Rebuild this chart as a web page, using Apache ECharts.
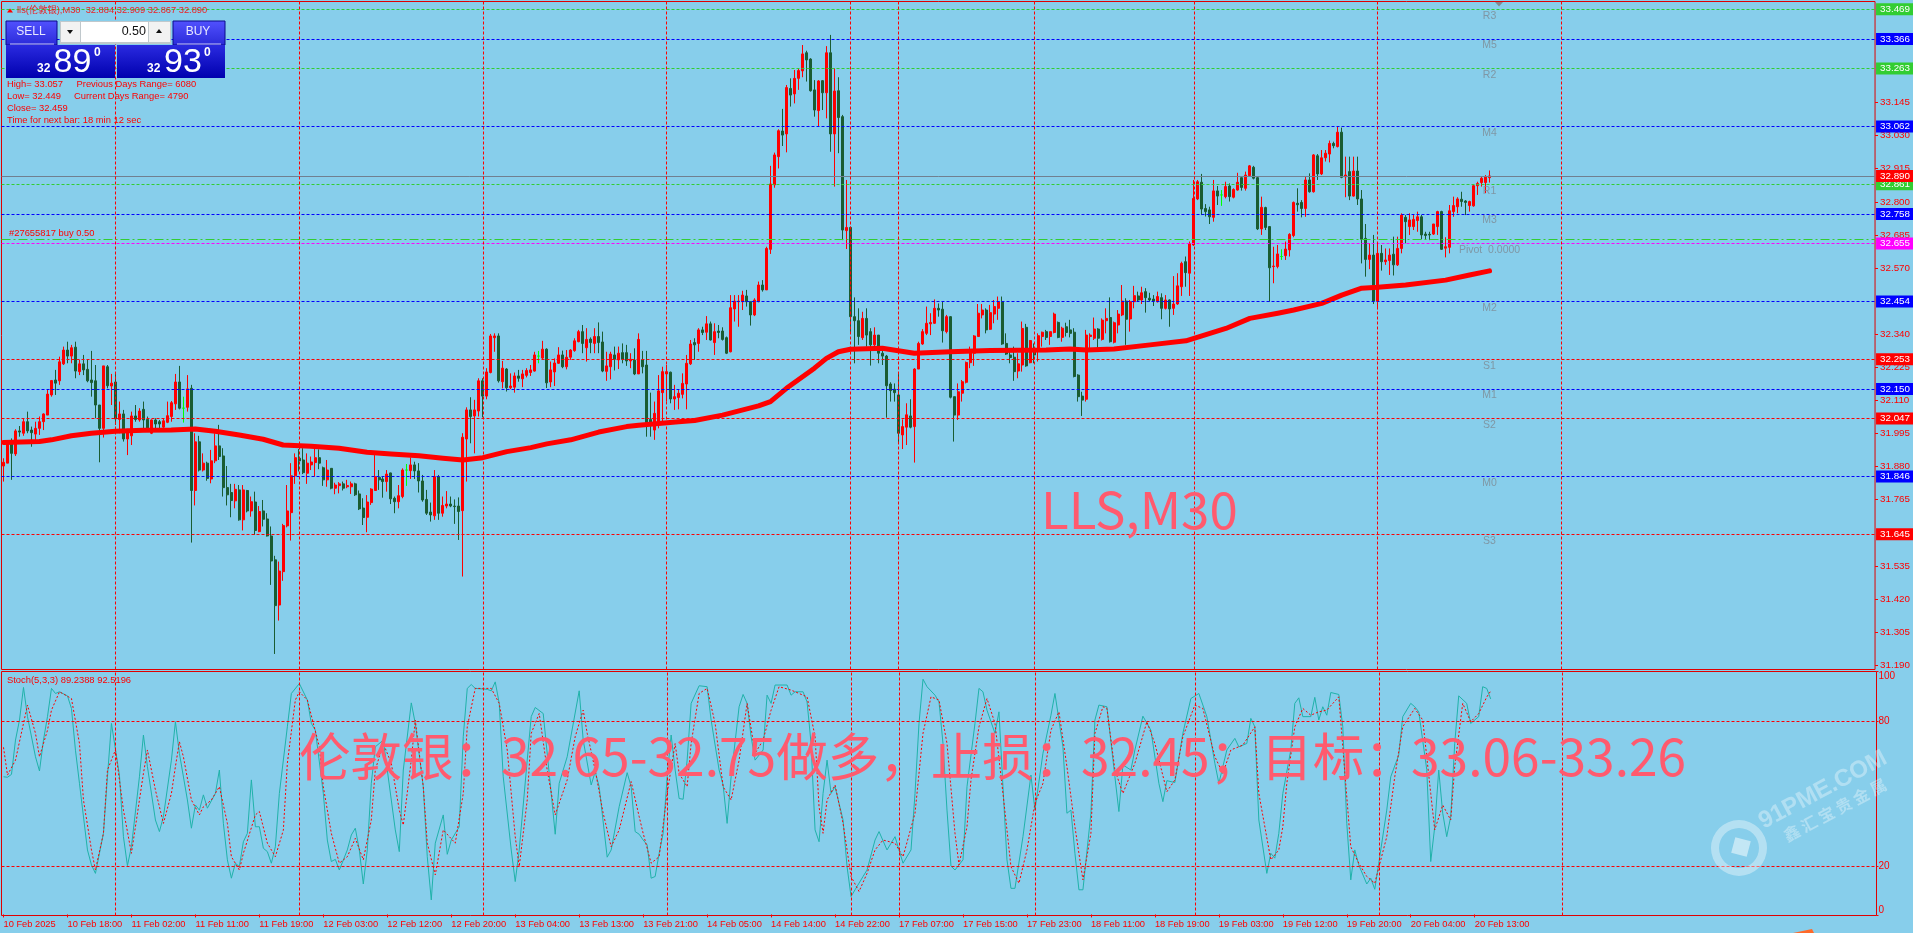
<!DOCTYPE html>
<html><head><meta charset="utf-8"><title>LLS,M30</title>
<style>html,body{margin:0;padding:0;background:#87ceeb;overflow:hidden}#c{width:1913px;height:933px}</style>
<script src="https://cdn.jsdelivr.net/npm/echarts@6/dist/echarts.min.js"></script></head>
<body><div id="c"></div>
<script>
const opens=[31.882,31.892,31.967,31.924,32.004,31.996,32.036,32.007,31.993,32.013,32.036,32.059,32.129,32.181,32.178,32.237,32.285,32.264,32.295,32.210,32.237,32.218,32.181,32.178,32.094,32.013,32.227,32.160,32.174,32.044,32.063,31.976,31.987,32.056,32.042,32.079,32.044,31.996,32.042,32.036,32.017,32.034,32.054,32.098,32.174,32.083,32.086,32.152,31.797,31.966,31.868,31.892,31.837,31.900,31.952,31.917,31.807,31.790,31.761,31.799,31.695,31.797,31.726,31.757,31.654,31.726,31.698,31.639,31.556,31.399,31.515,31.674,31.720,31.848,31.909,31.903,31.857,31.886,31.894,31.911,31.876,31.834,31.874,31.805,31.814,31.820,31.810,31.810,31.820,31.785,31.736,31.704,31.755,31.797,31.843,31.837,31.828,31.858,31.770,31.758,31.776,31.868,31.866,31.886,31.865,31.830,31.766,31.722,31.709,31.845,31.718,31.743,31.750,31.743,31.743,31.727,31.976,32.077,32.056,32.073,32.178,32.125,32.207,32.328,32.334,32.175,32.219,32.154,32.156,32.195,32.185,32.197,32.207,32.212,32.264,32.257,32.288,32.174,32.209,32.239,32.268,32.227,32.260,32.283,32.314,32.349,32.293,32.323,32.308,32.332,32.313,32.211,32.227,32.268,32.251,32.276,32.276,32.247,32.250,32.202,
32.251,32.233,32.044,32.007,32.033,32.137,32.202,32.208,32.115,32.120,32.131,32.167,32.237,32.311,32.308,32.355,32.347,32.376,32.311,32.351,32.351,32.328,32.279,32.428,32.453,32.453,32.473,32.453,32.407,32.453,32.511,32.494,32.635,32.859,32.957,33.046,33.036,33.194,33.175,33.229,33.255,33.318,33.296,33.189,33.117,33.221,33.179,33.318,33.036,33.186,33.096,32.700,32.711,32.401,32.387,32.328,32.395,32.349,32.303,32.337,32.274,32.264,32.167,32.149,32.129,31.990,32.017,32.056,32.019,32.219,32.306,32.343,32.376,32.378,32.430,32.427,32.349,32.401,32.123,32.059,32.135,32.173,32.241,32.274,32.332,32.407,32.424,32.357,32.410,32.430,32.453,32.308,32.268,32.260,32.212,32.233,32.364,32.241,32.291,32.285,32.332,32.349,32.332,32.346,32.381,32.329,32.366,32.355,32.347,32.198,32.125,32.114,32.332,32.326,32.358,32.322,32.387,32.398,32.312,32.372,32.407,32.455,32.393,32.453,32.473,32.459,32.488,32.465,32.462,32.453,32.467,32.430,32.459,32.430,32.445,32.505,32.592,32.552,32.650,32.810,32.868,32.777,32.772,32.746,32.838,32.824,32.818,32.855,32.816,32.841,32.884,32.847,32.891,32.920,32.884,32.706,32.780,32.714,32.575,32.575,32.610,32.613,32.633,32.683,32.795,32.798,32.777,32.876,32.835,32.960,32.897,32.953,32.966,33.003,32.992,33.042,32.887,32.905,32.820,32.907,32.810,32.673,32.600,32.615,32.455,32.621,32.592,32.596,32.618,32.581,32.638,32.746,32.714,32.714,32.735,32.748,32.688,32.687,32.688,32.714,32.766,32.639,32.642,32.766,32.783,32.809,32.803,32.787,32.786,32.856,32.867,32.867,32.884];
const closes=[31.895,31.967,31.926,32.004,32.000,32.036,32.004,31.998,32.013,32.036,32.063,32.132,32.179,32.170,32.244,32.285,32.264,32.293,32.212,32.237,32.216,32.178,32.172,32.094,32.013,32.230,32.161,32.170,32.046,32.063,31.976,32.010,32.056,32.044,32.073,32.042,32.010,32.042,32.028,32.028,32.039,32.057,32.102,32.174,32.083,32.083,32.150,31.797,31.966,31.868,31.892,31.839,31.900,31.952,31.915,31.807,31.782,31.762,31.801,31.695,31.799,31.726,31.758,31.658,31.724,31.697,31.639,31.552,31.397,31.517,31.675,31.726,31.848,31.911,31.900,31.859,31.892,31.896,31.911,31.892,31.834,31.868,31.805,31.816,31.820,31.805,31.814,31.820,31.782,31.733,31.703,31.757,31.802,31.845,31.834,31.828,31.854,31.768,31.758,31.779,31.868,31.868,31.886,31.865,31.830,31.764,31.718,31.712,31.845,31.718,31.745,31.750,31.743,31.741,31.724,31.982,32.077,32.054,32.077,32.178,32.125,32.209,32.334,32.334,32.178,32.222,32.154,32.160,32.195,32.187,32.202,32.214,32.216,32.268,32.264,32.288,32.171,32.216,32.240,32.268,32.227,32.260,32.285,32.317,32.349,32.308,32.322,32.311,32.332,32.311,32.212,32.230,32.271,32.253,32.274,32.253,32.247,32.253,32.202,32.322,
32.227,32.033,32.030,32.065,32.143,32.210,32.210,32.115,32.123,32.135,32.169,32.239,32.306,32.303,32.355,32.346,32.376,32.320,32.349,32.346,32.322,32.274,32.432,32.455,32.455,32.476,32.453,32.407,32.459,32.511,32.494,32.638,32.862,32.963,33.047,33.032,33.197,33.171,33.229,33.256,33.314,33.293,33.186,33.119,33.220,33.179,33.318,33.036,33.185,33.093,32.702,32.711,32.401,32.387,32.332,32.395,32.337,32.303,32.337,32.274,32.264,32.161,32.144,32.137,31.996,32.019,32.060,32.017,32.219,32.308,32.349,32.378,32.381,32.430,32.424,32.352,32.401,32.121,32.059,32.140,32.175,32.242,32.279,32.334,32.413,32.424,32.355,32.415,32.436,32.453,32.306,32.271,32.259,32.210,32.237,32.360,32.230,32.318,32.268,32.335,32.347,32.329,32.349,32.410,32.329,32.361,32.346,32.343,32.193,32.123,32.111,32.337,32.337,32.358,32.326,32.389,32.395,32.314,32.380,32.410,32.455,32.392,32.453,32.474,32.459,32.484,32.467,32.459,32.455,32.471,32.430,32.459,32.428,32.445,32.508,32.586,32.554,32.654,32.812,32.870,32.775,32.766,32.748,32.838,32.820,32.824,32.853,32.818,32.843,32.868,32.850,32.893,32.925,32.882,32.706,32.781,32.711,32.571,32.577,32.619,32.610,32.636,32.687,32.798,32.790,32.777,32.876,32.835,32.963,32.897,32.953,32.969,33.003,32.995,33.042,32.885,32.893,32.820,32.907,32.810,32.670,32.600,32.615,32.455,32.621,32.592,32.598,32.615,32.581,32.638,32.754,32.731,32.737,32.739,32.748,32.685,32.683,32.685,32.723,32.766,32.635,32.644,32.769,32.787,32.810,32.801,32.798,32.801,32.856,32.864,32.882,32.887,32.890];
const highs=[31.909,31.967,31.978,32.010,32.021,32.048,32.071,32.019,32.036,32.054,32.065,32.146,32.181,32.216,32.262,32.297,32.314,32.303,32.314,32.251,32.268,32.251,32.282,32.233,32.094,32.230,32.233,32.202,32.204,32.106,32.077,32.010,32.071,32.094,32.083,32.106,32.054,32.044,32.048,32.042,32.048,32.106,32.108,32.202,32.230,32.123,32.198,32.164,31.996,31.987,31.926,31.897,31.938,31.996,32.025,31.944,31.882,31.820,31.820,31.816,31.816,31.799,31.776,31.793,31.743,31.764,31.718,31.672,31.570,31.550,31.681,31.816,31.892,31.926,31.941,31.944,31.926,31.915,31.944,31.940,31.880,31.903,31.874,31.824,31.826,31.828,31.834,31.828,31.824,31.797,31.770,31.781,31.805,31.920,31.868,31.845,31.868,31.859,31.776,31.816,31.874,31.889,31.912,31.897,31.892,31.851,31.799,31.755,31.868,31.851,31.776,31.795,31.776,31.766,31.773,31.996,32.086,32.121,32.112,32.187,32.187,32.222,32.341,32.343,32.343,32.247,32.222,32.204,32.207,32.216,32.216,32.222,32.233,32.279,32.282,32.317,32.291,32.245,32.256,32.295,32.283,32.285,32.288,32.326,32.355,32.372,32.361,32.329,32.361,32.381,32.349,32.279,32.279,32.297,32.297,32.308,32.303,32.274,32.291,32.343,
32.282,32.282,32.137,32.106,32.198,32.227,32.233,32.210,32.164,32.146,32.204,32.268,32.320,32.326,32.361,32.366,32.403,32.384,32.378,32.372,32.364,32.332,32.476,32.476,32.476,32.491,32.494,32.453,32.465,32.523,32.528,32.644,32.925,32.971,33.052,33.123,33.206,33.229,33.258,33.264,33.345,33.325,33.299,33.223,33.223,33.223,33.341,33.380,33.264,33.233,33.102,32.876,32.714,32.468,32.430,32.418,32.430,32.361,32.364,32.337,32.297,32.268,32.173,32.169,32.204,32.044,32.100,32.114,32.222,32.314,32.358,32.436,32.413,32.461,32.447,32.453,32.407,32.403,32.123,32.169,32.181,32.245,32.297,32.337,32.445,32.445,32.430,32.442,32.459,32.471,32.471,32.343,32.285,32.297,32.274,32.384,32.376,32.320,32.308,32.343,32.349,32.355,32.349,32.415,32.384,32.366,32.380,32.390,32.361,32.201,32.140,32.355,32.343,32.398,32.361,32.395,32.430,32.468,32.384,32.424,32.511,32.465,32.459,32.508,32.488,32.505,32.500,32.484,32.476,32.488,32.482,32.476,32.461,32.542,32.552,32.592,32.610,32.662,32.876,32.876,32.897,32.792,32.783,32.876,32.855,32.841,32.870,32.864,32.847,32.901,32.885,32.905,32.928,32.925,32.887,32.818,32.783,32.716,32.644,32.650,32.635,32.662,32.691,32.801,32.847,32.806,32.888,32.899,32.966,32.966,32.980,32.980,33.013,33.009,33.061,33.058,32.957,32.957,32.957,32.957,32.841,32.723,32.656,32.685,32.654,32.650,32.638,32.638,32.679,32.679,32.760,32.754,32.760,32.754,32.766,32.754,32.696,32.696,32.723,32.769,32.769,32.677,32.789,32.818,32.816,32.835,32.806,32.804,32.862,32.870,32.887,32.893,32.909];
const lows=[31.828,31.892,31.834,31.917,31.984,31.987,31.996,31.949,31.973,31.990,32.007,32.059,32.123,32.129,32.164,32.233,32.239,32.239,32.187,32.198,32.198,32.173,32.123,32.048,31.895,31.981,32.152,32.094,32.025,31.996,31.967,31.920,31.955,32.036,32.036,32.013,32.005,31.993,32.013,32.013,32.005,32.031,32.036,32.077,32.079,32.033,32.071,31.616,31.745,31.863,31.863,31.831,31.822,31.892,31.903,31.776,31.745,31.704,31.735,31.692,31.658,31.721,31.706,31.643,31.652,31.672,31.637,31.469,31.229,31.345,31.483,31.669,31.623,31.820,31.863,31.854,31.820,31.868,31.845,31.871,31.813,31.810,31.801,31.784,31.787,31.797,31.805,31.785,31.778,31.729,31.677,31.652,31.747,31.797,31.799,31.772,31.793,31.750,31.718,31.735,31.770,31.813,31.837,31.837,31.790,31.758,31.712,31.689,31.695,31.695,31.706,31.735,31.739,31.681,31.625,31.498,31.828,31.961,31.926,32.054,32.051,32.114,32.204,32.279,32.172,32.152,32.141,32.149,32.137,32.175,32.156,32.190,32.195,32.210,32.239,32.251,32.153,32.156,32.160,32.237,32.222,32.218,32.251,32.279,32.312,32.274,32.245,32.274,32.274,32.274,32.208,32.178,32.183,32.214,32.219,32.239,32.230,32.222,32.198,32.202,
32.204,31.984,31.984,31.973,32.013,32.036,32.106,32.100,32.077,32.079,32.117,32.079,32.233,32.251,32.279,32.337,32.320,32.318,32.268,32.326,32.318,32.271,32.277,32.384,32.366,32.424,32.436,32.370,32.403,32.451,32.488,32.494,32.619,32.849,32.916,32.994,32.972,33.131,33.142,33.189,33.233,33.218,33.183,33.096,33.061,33.119,33.090,32.974,32.853,32.969,32.667,32.636,32.343,32.239,32.303,32.320,32.297,32.231,32.291,32.239,32.233,32.050,32.106,32.106,31.959,31.941,31.955,32.013,31.894,32.219,32.303,32.337,32.337,32.376,32.401,32.311,32.343,32.117,31.967,32.042,32.106,32.169,32.222,32.230,32.332,32.395,32.343,32.355,32.378,32.390,32.303,32.268,32.239,32.178,32.187,32.210,32.227,32.239,32.239,32.245,32.297,32.320,32.303,32.343,32.326,32.314,32.332,32.329,32.190,32.106,32.056,32.106,32.279,32.320,32.279,32.318,32.343,32.311,32.308,32.343,32.403,32.303,32.349,32.430,32.453,32.445,32.415,32.453,32.438,32.450,32.392,32.426,32.366,32.407,32.442,32.473,32.505,32.473,32.647,32.806,32.754,32.749,32.723,32.731,32.789,32.786,32.812,32.801,32.812,32.839,32.839,32.839,32.887,32.878,32.702,32.685,32.702,32.453,32.517,32.569,32.598,32.598,32.610,32.677,32.766,32.746,32.748,32.832,32.832,32.876,32.893,32.940,32.937,32.986,32.989,32.882,32.816,32.806,32.818,32.789,32.586,32.540,32.566,32.445,32.427,32.561,32.581,32.546,32.544,32.577,32.621,32.656,32.685,32.702,32.696,32.670,32.670,32.667,32.685,32.685,32.633,32.607,32.621,32.748,32.760,32.783,32.754,32.766,32.783,32.824,32.853,32.830,32.867];
const dojiBars=[45,101,134,305,320];
const maPoints=[[0,31.964],[9,31.967],[12,31.973],[17,31.987],[22,31.996],[28,32.003],[35,32.006],[42,32.007],[48,32.011],[53,32.003],[59,31.990],[65,31.975],[70,31.955],[77,31.951],[84,31.944],[91,31.930],[97,31.924],[104,31.918],[110,31.909],[115,31.903],[120,31.911],[126,31.932],[132,31.946],[136,31.959],[142,31.973],[149,32.000],[156,32.019],[159,32.024],[169,32.036],[173,32.040],[180,32.059],[189,32.091],[192,32.106],[196,32.152],[203,32.222],[206,32.256],[209,32.279],[212,32.288],[220,32.291],[228,32.274],[237,32.279],[247,32.283],[261,32.285],[267,32.289],[271,32.285],[278,32.289],[287,32.303],[296,32.317],[302,32.343],[306,32.360],[312,32.395],[319,32.413],[323,32.424],[330,32.447],[335,32.476],[340,32.500],[344,32.503],[351,32.511],[361,32.528],[367,32.546],[372,32.560]];
const stochK=[[0,57],[1,56.8],[2,58],[3,72.2],[4,80.5],[5,94],[6,81.9],[8,65.3],[9,59.4],[10,72.2],[11,81.9],[12,93.6],[13,91.5],[14,92.2],[16,90.5],[17,85.3],[18,68],[19,54.3],[21,26.7],[22,20.5],[23,17],[25,33.6],[26,57],[27,79.1],[29,57.7],[30,32.2],[31,20.2],[32,28],[34,57],[35,74.3],[36,61.2],[38,39.1],[39,34.3],[40,40.5],[42,63.9],[43,79.8],[44,66.7],[46,47.4],[47,35.7],[48,45.3],[49,43.2],[50,49.5],[51,44],[53,50.1],[54,59.8],[55,37.7],[56,22.6],[57,15],[58,21.2],[59,19.8],[60,30.1],[61,33.6],[62,55.7],[63,36.3],[64,36.3],[65,27.4],[66,26],[67,21.2],[68,28],[69,50.1],[71,77.7],[72,91.5],[74,95.6],[76,88.8],[77,79.1],[78,76.3],[80,50.1],[81,30.8],[82,21.9],[83,22.8],[84,18.4],[86,26.7],[87,32.9],[88,35.7],[89,26.7],[90,12.6],[91,26.7],[92,54.3],[93,69.4],[95,72.2],[96,59.8],[98,35],[99,26],[100,59.8],[102,87.6],[103,79.1],[105,52.9],[106,23.9],[107,6],[108,29.5],[110,41.2],[111,24.9],[112,30.8],[114,36.3],[115,73.6],[116,93.6],[117,95.2],[118,93.6],[121,93.2],[122,92.6],[123,96.3],[124,87.4],[125,57],[127,26.7],[128,13.6],[129,26.7],[131,63.9],[132,81.9],[133,85.7],[135,83.2],[137,50.1],[138,33.2],[139,54.3],[141,65.3],[144,92.6],[145,72.2],[147,53.6],[148,59.1],[149,52.9],[151,23.7],[152,26.7],[154,44.6],[156,58.7],[157,52.9],[158,34.3],[159,33.2],[160,30.8],[161,28.8],[162,15],[163,15.7],[164,25.3],[165,33.6],[166,57],[167,74.3],[168,59.8],[169,48],[170,47.7],[171,63.9],[172,87.4],[174,94.7],[176,94.3],[177,80.5],[179,59.8],[180,53.6],[181,37.7],[182,57],[184,86],[185,91.1],[186,87.4],[187,73.6],[188,63.9],[190,68.1],[191,90.8],[192,87.4],[193,95],[196,95],[197,90.8],[198,92.2],[200,92.2],[201,88],[202,70.8],[203,35],[204,30.1],[205,50.1],[206,63.9],[207,50.1],[208,52.9],[210,39.1],[211,19.8],[212,7.4],[213,10.2],[215,15.7],[216,18.4],[218,30.8],[219,34.3],[221,26.7],[223,32.2],[225,21.2],[227,26.7],[228,50.1],[229,79.1],[230,97.4],[231,94.3],[233,90.8],[234,88],[235,70.8],[236,43.2],[237,20],[238,18.4],[240,22.6],[241,52.9],[243,79.1],[244,93.6],[245,92.2],[246,84.6],[248,75],[249,83.9],[250,52.9],[251,22.6],[252,10.8],[253,10.8],[255,32.2],[257,57.7],[258,43.2],[260,66.7],[262,82.5],[263,91.5],[265,69.4],[266,41.9],[267,43.2],[268,25.3],[269,10.2],[270,10.2],[272,41.9],[273,80.5],[274,86.7],[276,86],[278,57],[279,42.6],[280,61.9],[282,59.8],[283,68.1],[285,82.1],[287,76.3],[289,54.3],[290,46.7],[291,55.4],[293,54.6],[295,75],[297,89.4],[299,91.5],[301,81.9],[303,62.6],[304,54.3],[306,68.1],[308,72.9],[309,69.4],[311,70.8],[312,81.2],[313,77.7],[314,39.1],[316,17],[317,25.3],[318,23.3],[319,33.6],[320,50.1],[322,68.1],[323,87.4],[324,89.7],[325,81.9],[327,81.9],[328,89.9],[329,80.5],[330,86],[331,82.5],[332,91.9],[334,91.1],[335,77.7],[336,37.7],[337,14.3],[338,26.7],[339,20.5],[341,12.6],[342,15],[343,10.4],[344,21.2],[346,43.2],[347,57],[349,66],[350,81.9],[352,87.4],[353,86],[354,83.9],[356,60],[357,21.9],[358,36.3],[359,59.8],[360,41.9],[361,32.2],[362,40.5],[363,70.8],[364,90.5],[366,87.4],[367,79.1],[369,81.9],[370,94.3],[371,93.6],[372,89.24]];
const stochD=[[0,69.2],[1,57.7],[3,63.9],[4,71.5],[6,86.7],[8,75],[9,65.3],[11,76.3],[12,84.6],[14,92.2],[17,89.4],[19,70.8],[20,47.4],[22,26.7],[23,18.4],[25,33.6],[26,59.8],[28,68.1],[30,43.2],[32,25.3],[33,36.3],[35,58.4],[36,68.1],[38,51.5],[40,37.7],[42,50.1],[43,61.2],[44,71.5],[45,65.3],[47,47.4],[49,41.2],[50,44.6],[52,47.4],[54,52.9],[56,37.7],[57,23.9],[59,18.4],[60,25.3],[63,41.2],[64,42.6],[66,29.5],[68,23.9],[70,34.9],[71,62.6],[73,88.8],[74,92.2],[76,88.8],[79,69.4],[80,52.9],[82,33.6],[84,21.2],[86,23.9],[88,31.5],[90,22.6],[92,39.1],[93,59.8],[95,70.8],[97,62.6],[99,43.2],[100,37],[102,63.9],[103,80.5],[105,52.9],[106,29.5],[108,16.4],[110,35],[113,29.5],[115,50.1],[116,77.7],[118,93.6],[122,93.6],[124,87.4],[126,68.1],[128,32.2],[129,19.8],[131,47.4],[132,75],[134,83.2],[136,59.8],[138,41.2],[141,55.7],[143,73.6],[145,84.6],[146,75],[148,59.8],[150,41.9],[152,28],[154,35],[157,55],[159,40.5],[160,33.6],[162,21.2],[164,23.9],[166,50.1],[168,70.8],[169,58.4],[171,52.9],[172,70.8],[174,91.5],[176,93.6],[178,79.1],[180,52.9],[182,47.4],[184,63.9],[186,87.4],[188,66.7],[190,72.2],[192,84.6],[194,94.3],[197,92.9],[201,90.1],[203,73.6],[204,44.6],[205,33.6],[206,47.4],[208,53.6],[210,37.7],[212,15.7],[214,9.5],[216,17],[218,26.7],[220,30.8],[223,29.5],[225,23.9],[228,41.9],[230,75],[232,90.1],[234,88.8],[236,70.8],[238,33.6],[239,20.5],[241,36.3],[242,55.7],[244,77.7],[246,89.4],[248,79.1],[250,50.1],[252,19.8],[254,12.9],[256,26.7],[258,46],[260,54.3],[262,76.3],[264,83.9],[266,61.2],[268,36.3],[270,14.3],[272,33.6],[273,75],[275,86],[276,85.3],[278,59.8],[280,50.1],[283,62.6],[286,79.8],[288,70.8],[291,50.8],[293,55.7],[295,73.6],[298,86.7],[300,85.3],[303,65.3],[305,58.4],[307,68.1],[310,70.1],[313,77.7],[314,50.1],[317,22.6],[319,26.7],[320,36.3],[321,54.3],[323,77.7],[325,85.3],[327,82.5],[329,83.9],[331,84.6],[334,90.1],[335,69.4],[337,28],[339,21.2],[341,15.7],[343,12.9],[346,32.2],[348,57],[350,77.7],[353,85.3],[355,80.5],[357,50.1],[358,35],[360,45.3],[362,39.1],[363,61.2],[365,87.4],[367,79.8],[369,83.2],[371,90],[372,92.52]];
const xTickLabels=["10 Feb 2025","10 Feb 18:00","11 Feb 02:00","11 Feb 11:00","11 Feb 19:00","12 Feb 03:00","12 Feb 12:00","12 Feb 20:00","13 Feb 04:00","13 Feb 13:00","13 Feb 21:00","14 Feb 05:00","14 Feb 14:00","14 Feb 22:00","17 Feb 07:00","17 Feb 15:00","17 Feb 23:00","18 Feb 11:00","18 Feb 19:00","19 Feb 03:00","19 Feb 12:00","19 Feb 20:00","20 Feb 04:00","20 Feb 13:00"];
const priceTicks=[33.145,33.030,32.915,32.800,32.685,32.570,32.340,32.225,32.110,31.995,31.880,31.765,31.535,31.420,31.305,31.190];
const pivotNames=["R3","M5","R2","M4","R1","M3","Pivot  0.0000","M2","S1","M1","S2","M0","S3"];
const pivotValues=[33.469,33.366,33.263,33.062,32.861,32.758,32.655,32.454,32.253,32.150,32.047,31.846,31.645];
const pivotColors=["#32cd32","#0000ff","#32cd32","#0000ff","#32cd32","#0000ff","#ff00ff","#0000ff","#ff0000","#0000ff","#ff0000","#0000ff","#ff0000"];
const daySeparators=[28,74,120,166,212,224,258,298,344,390];
const stochLevels=[80,20];
const bidPrice=32.890, orderPrice=32.670;
const slotCount=469, tickEvery=16;

const RED='#ff0000', DARK='#1a5c32', LIME='#00ff00', FONT='"Liberation Sans",Arial,sans-serif', CJK='"Noto Sans CJK SC","Noto Sans",sans-serif';
const categories=Array.from({length:slotCount},(_,i)=>i%tickEvery===0?(xTickLabels[i/tickEvery]||''):'');
const candles=opens.map((o,i)=>{
  const v=[o,closes[i],lows[i],highs[i]];
  return dojiBars.includes(i)?{value:v,itemStyle:{color:LIME,color0:LIME,borderColor:LIME,borderColor0:LIME,borderColorDoji:LIME}}:{value:v};
});
const tagLabel=(text,bg)=>({show:true,position:'end',distance:1,formatter:text,color:'#fff',backgroundColor:bg,padding:[1,3,1,4],fontSize:9.8,fontFamily:FONT});
const levelLines=pivotValues.map((v,i)=>({yAxis:v,lineStyle:{color:pivotColors[i],type:[3,2],width:1},label:tagLabel(v.toFixed(3),pivotColors[i])}));
levelLines.push({yAxis:orderPrice,lineStyle:{color:'#32cd32',type:[9,3,2,3],width:1},label:{show:false}});
levelLines.push({yAxis:bidPrice,lineStyle:{color:'#708090',type:'solid',width:1},label:tagLabel(bidPrice.toFixed(3),RED)});
const vLineBase=()=>({silent:true,symbol:'none',animation:false,label:{show:false},lineStyle:{color:RED,type:[3,2],width:1},data:daySeparators.map(b=>({xAxis:b}))});
const Y0=33.4961,Y1=31.1750;

const panelText=(text,x,y,size,extra)=>({type:'text',silent:true,z:30,style:Object.assign({text,x,y,fill:'#fff',font:size+'px '+FONT,textAlign:'left',textVerticalAlign:'middle'},extra||{})});
const rect=(x,y,w,h,fill,extra)=>({type:'rect',silent:true,z:29,shape:{x,y,width:w,height:h},style:Object.assign({fill},extra||{})});
const grad=(a,b)=>({type:'linear',x:0,y:0,x2:0,y2:1,colorStops:[{offset:0,color:a},{offset:1,color:b}]});
const redT=(t,x,y)=>panelText(t,x,y,9.4,{fill:RED});
const bigT=(t,x)=>({type:'text',silent:true,z:25,style:{text:t,x,y:756,fill:'#ff5a6e',font:'51.5px '+CJK,textAlign:'left',textVerticalAlign:'middle'}});
const graphic=[
  rect(60,21,111,23,'#c0c8cc'),rect(61,22,19,20,'#f2f2f2'),rect(81,22,67,20,'#ffffff'),rect(149,22,21,20,'#f2f2f2'),
  panelText('0.50',146,31.5,12.5,{fill:'#111',textAlign:'right'}),
  {type:'polygon',silent:true,z:31,shape:{points:[[67,30],[73,30],[70,34]]},style:{fill:'#111'}},
  {type:'polygon',silent:true,z:31,shape:{points:[[156,33],[162,33],[159,29]]},style:{fill:'#111'}},
  rect(6,21,51,24,grad('#5252ff','#2a2ad8'),{stroke:'#0a0a8a'}),rect(173,21,52,24,grad('#5252ff','#2a2ad8'),{stroke:'#0a0a8a'}),
  rect(6,45,109,33,grad('#2a2ae0','#0000ae')),rect(117,45,108,33,grad('#2a2ae0','#0000ae')),
  rect(10,43.5,44,1,'#c8c8ff'),rect(177,43.5,44,1,'#c8c8ff'),
  panelText('SELL',31,32,12,{textAlign:'center',fill:'#e8e8ff'}),panelText('BUY',198,32,12,{textAlign:'center',fill:'#e8e8ff'}),
  panelText('32',37,68.5,12,{font:'bold 12px '+FONT}),panelText('89',53.5,62.5,34),panelText('0',94,52.5,12,{font:'bold 12px '+FONT}),
  panelText('32',147,68.5,12,{font:'bold 12px '+FONT}),panelText('93',164,62.5,34),panelText('0',204,52.5,12,{font:'bold 12px '+FONT}),
  {type:'polygon',silent:true,z:31,shape:{points:[[7,12.5],[13,12.5],[10,8.5]]},style:{fill:RED}},
  panelText('lls(伦敦银),M30  32.884 32.909 32.867 32.890',17,10.5,9.3,{fill:RED,opacity:.85,font:'9.3px '+FONT+','+CJK}),
  redT('High= 33.057',7,84),redT('Previous Days Range= 6080',76.5,84),
  redT('Low= 32.449',7,96),redT('Current Days Range= 4790',74,96),
  redT('Close= 32.459',7,108),redT('Time for next bar: 18 min 12 sec',7,120),
  redT('#27655817 buy 0.50',9,233.5),redT('Stoch(5,3,3) 89.2388 92.5196',7,680.5),
  {type:'polygon',silent:true,z:31,shape:{points:[[1495,2],[1503,2],[1499,6.5]]},style:{fill:'#808890'}},
  {type:'text',silent:true,z:25,style:{text:'LLS,M30',x:1041,y:510,fill:'#ff5a6e',font:'51px '+CJK,textAlign:'left',textVerticalAlign:'middle'}},
  bigT('伦敦银：',299),bigT('32.65-32.75做多，止损：',501),bigT('32.45；目标：',1081),bigT('33.06-33.26',1411),
  {type:'ring',silent:true,z:26,shape:{cx:1739,cy:848,r:28,r0:20},style:{fill:'rgba(255,255,255,.38)'}},
  {type:'rect',silent:true,z:26,x:1741,y:847,rotation:-0.26,shape:{x:-8,y:-8,width:16,height:16},style:{fill:'rgba(255,255,255,.5)'}},
  {type:'text',silent:true,z:26,x:1823,y:790,rotation:0.49,style:{text:'91PME.COM',fill:'rgba(255,255,255,.35)',font:'bold 24px '+FONT,textAlign:'center',textVerticalAlign:'middle'}},
  {type:'text',silent:true,z:26,x:1835,y:810,rotation:0.49,style:{text:'鑫 汇 宝 贵 金 属',fill:'rgba(255,255,255,.35)',font:'bold 16px '+CJK,textAlign:'center',textVerticalAlign:'middle'}},
  {type:'polygon',silent:true,z:31,shape:{points:[[1793,933],[1812,929],[1814,933]]},style:{fill:'#ff6a2a'}}
];

const option={
  animation:false,backgroundColor:'#87ceeb',
  graphic,
  grid:[
    {left:1.5,top:1.5,width:1875,height:668,show:true,borderColor:'#e00000',borderWidth:1,backgroundColor:'transparent'},
    {left:1.5,top:671.5,width:1875,height:244,show:true,borderColor:'#e00000',borderWidth:1,backgroundColor:'transparent'}
  ],
  xAxis:[
    {type:'category',gridIndex:0,data:categories,boundaryGap:true,min:0,max:slotCount-1,axisLine:{show:false},axisTick:{show:false},axisLabel:{show:false},splitLine:{show:false}},
    {type:'category',gridIndex:1,data:categories,boundaryGap:true,min:0,max:slotCount-1,position:'bottom',axisLine:{show:false},
      axisTick:{show:true,alignWithLabel:true,length:3,interval:(i)=>i%tickEvery===0&&i<tickEvery*xTickLabels.length,lineStyle:{color:RED}},
      axisLabel:{show:true,interval:tickEvery-1,align:'left',margin:4,color:RED,fontSize:9.3,fontFamily:FONT,showMinLabel:true,hideOverlap:false},splitLine:{show:false}}
  ],
  yAxis:[
    {type:'value',gridIndex:0,position:'right',min:Y1,max:Y0,scale:true,splitLine:{show:false},axisLine:{show:false},
      axisTick:{show:true,length:3,customValues:priceTicks,lineStyle:{color:RED}},
      axisLabel:{show:true,customValues:priceTicks,margin:5,color:RED,fontSize:9.8,fontFamily:FONT,formatter:v=>v.toFixed(3)}},
    {type:'value',gridIndex:1,position:'right',min:-0.45,max:100.6,splitLine:{show:false},axisLine:{show:false},
      axisTick:{show:true,length:2,customValues:[-0.45,20,80,100.6],lineStyle:{color:RED}},
      axisLabel:{show:true,customValues:[-0.45,20,80,100.6],margin:2,color:RED,fontSize:10,fontFamily:FONT,verticalAlignMinLabel:'bottom',verticalAlignMaxLabel:'top',
        formatter:v=>v<0?'0':(v>100?'100':String(v))}}
  ],
  series:[
    {type:'line',name:'levels',xAxisIndex:0,yAxisIndex:0,data:[],z:1,markLine:{silent:true,symbol:'none',animation:false,precision:3,data:levelLines}},
    {type:'line',name:'days',xAxisIndex:0,yAxisIndex:0,data:[],z:1,markLine:vLineBase()},
    {type:'line',name:'days2',xAxisIndex:1,yAxisIndex:1,data:[],z:1,markLine:vLineBase()},
    {type:'line',name:'stochLevels',xAxisIndex:1,yAxisIndex:1,data:[],z:1,markLine:{silent:true,symbol:'none',animation:false,label:{show:false},lineStyle:{color:RED,type:[3,2],width:1},data:stochLevels.map(v=>({yAxis:v}))}},
    {type:'candlestick',name:'lls',xAxisIndex:0,yAxisIndex:0,z:3,barWidth:2.5,data:candles,
      itemStyle:{color:RED,color0:DARK,borderColor:RED,borderColor0:DARK,borderColorDoji:RED,borderWidth:1}},
    {type:'line',name:'MA',xAxisIndex:0,yAxisIndex:0,z:4,data:maPoints,showSymbol:false,smooth:false,lineStyle:{color:RED,width:5,cap:'round',join:'round'}},
    {type:'scatter',name:'pivots',xAxisIndex:0,yAxisIndex:0,z:5,symbolSize:0,silent:true,
      data:pivotValues.map((v,i)=>({value:[opens.length-1,v],label:{formatter:pivotNames[i]}})),
      label:{show:true,position:'bottom',distance:1,color:'#7d8a94',fontSize:10.5,fontFamily:FONT}},
    {type:'line',name:'K',xAxisIndex:1,yAxisIndex:1,z:4,data:stochK,showSymbol:false,lineStyle:{color:'#20b2aa',width:1}},
    {type:'line',name:'D',xAxisIndex:1,yAxisIndex:1,z:5,data:stochD,showSymbol:false,lineStyle:{color:RED,width:1,type:[2,2]}}
  ]
};
const chart=echarts.init(document.getElementById('c'),null,{renderer:'canvas'});
chart.setOption(option);
</script></body></html>
